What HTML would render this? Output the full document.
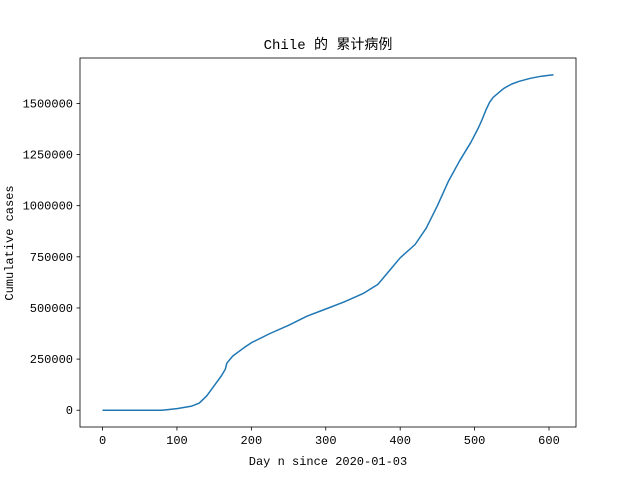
<!DOCTYPE html>
<html><head><meta charset="utf-8"><style>
body{margin:0;background:#fff}
text{font-family:"Liberation Mono","Noto Sans CJK SC",monospace;font-size:12px;fill:#000}
</style></head><body>
<svg width="640" height="480">
<rect width="640" height="480" fill="#fff"/>
<text x="328" y="49" text-anchor="middle" style="font-size:14px">Chile 的 累计病例</text>
<g id="ticks"></g>
<path id="line" fill="none" stroke="#1f77b4" stroke-width="1.5" stroke-linejoin="round"/>
<rect x="80" y="58" width="496" height="369" fill="none" stroke="#000" stroke-width="0.8"/>
<text x="328" y="465" text-anchor="middle">Day n since 2020-01-03</text>
<text transform="translate(13,243) rotate(-90)" text-anchor="middle">Cumulative cases</text>
</svg>
<script>
const days=[0,80,100,120,130,140,150,160,165,167,175,190,200,225,250,275,300,325,350,370,385,400,420,435,450,465,480,495,505,510,515,520,525,535,540,550,560,575,590,606];
const cases=[0,0,8000,20000,35000,70000,120000,170000,200000,230000,265000,305000,330000,375000,415000,460000,495000,530000,570000,615000,680000,745000,810000,890000,1000000,1120000,1220000,1310000,1380000,1420000,1465000,1505000,1530000,1560000,1575000,1595000,1608000,1623000,1633000,1640000];
const xTicks=[0,100,200,300,400,500,600];
const yTicks=[0,250000,500000,750000,1000000,1250000,1500000];
const xmin=-30.3,xmax=636.3,ymin=-82000,ymax=1722000;
const X=d=>80+(d-xmin)/(xmax-xmin)*496;
const Y=v=>427-(v-ymin)/(ymax-ymin)*369;
const ns="http://www.w3.org/2000/svg";
const g=document.getElementById('ticks');
function mk(t,a){const e=document.createElementNS(ns,t);for(const k in a)e.setAttribute(k,a[k]);g.appendChild(e);return e;}
xTicks.forEach(t=>{
 const l=mk('line',{x1:X(t),x2:X(t),y1:427,y2:430.5,stroke:'#000','stroke-width':0.8});
 
 
 const s=mk('text',{x:X(t),y:444,'text-anchor':'middle'});s.textContent=t;
 
 
});
yTicks.forEach(t=>{
 const l=mk('line',{x1:76.5,x2:80,y1:Y(t),y2:Y(t),stroke:'#000','stroke-width':0.8});
 
 
 const s=mk('text',{x:73,y:Y(t)+4,'text-anchor':'end'});s.textContent=t;
 
 
});
document.getElementById('line').setAttribute('d',days.map((d,i)=>(i?'L':'M')+X(d).toFixed(1)+','+Y(cases[i]).toFixed(1)).join(''));
</script>
</body></html>
